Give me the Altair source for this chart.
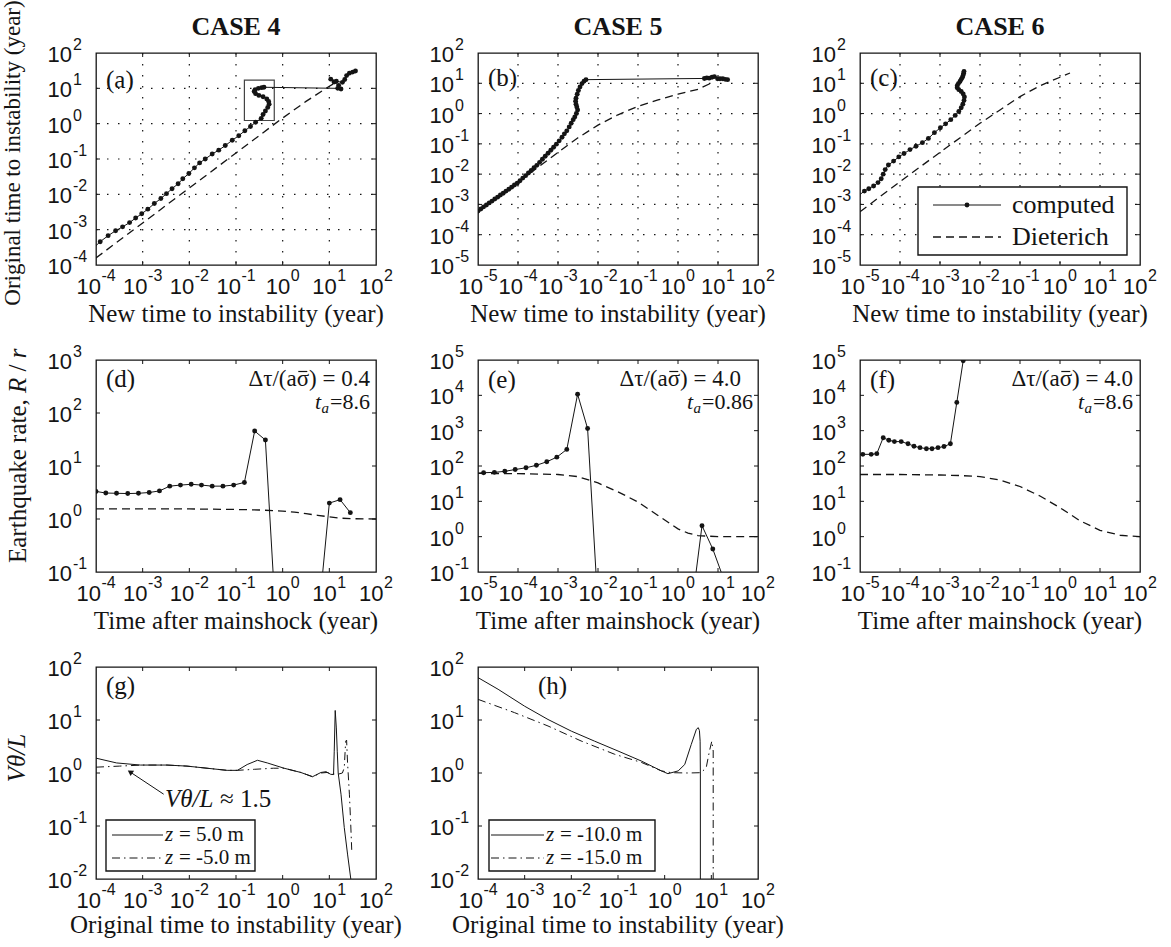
import altair as alt
import pandas as pd

# ---------------------------------------------------------------------------
# Layout / style
# ---------------------------------------------------------------------------
W, H = 280, 212
SERIF = "Liberation Serif"
SANS = "Liberation Sans"
INK = "#141414"
DOT = 24
DASH = [8, 5]
DASHDOT = [8, 4, 1.5, 4]
ONE = pd.DataFrame({"k": [0]})

# ---------------------------------------------------------------------------
# Curves, stored as log10 readings of the plotted quantities
# ---------------------------------------------------------------------------
# (a) CASE 4: new vs original time to instability
A_COMP_LX = [-4.07, -3.91, -3.74, -3.58, -3.43, -3.28, -3.15, -3.02, -2.89, -2.75,
             -2.61, -2.49, -2.37, -2.24, -2.14, -2.01, -1.89, -1.78, -1.66, -1.51,
             -1.37, -1.23, -1.08, -0.94, -0.81, -0.69, -0.58, -0.46,
             -0.42, -0.37, -0.32, -0.29, -0.30, -0.34, -0.42, -0.51, -0.58, -0.61,
             -0.59, -0.52, -0.45, -0.40,
             1.18, 1.25, 1.20, 1.10, 1.03, 1.15, 1.28, 1.33, 1.37, 1.43, 1.50, 1.56]
A_COMP_LY = [-3.54, -3.34, -3.17, -3.03, -2.92, -2.80, -2.67, -2.55, -2.42, -2.26,
             -2.12, -1.98, -1.84, -1.70, -1.56, -1.41, -1.25, -1.11, -1.00, -0.86,
             -0.75, -0.62, -0.47, -0.34, -0.20, -0.08, 0.04, 0.15,
             0.26, 0.36, 0.46, 0.55, 0.63, 0.70, 0.76, 0.80, 0.85, 0.91,
             0.96, 1.00, 1.02, 1.03,
             1.00, 0.98, 1.08, 1.18, 1.26, 1.20, 1.17, 1.25, 1.36, 1.43, 1.46, 1.49]
A_DIET_LX = [-4.0, -3.0, -2.0, -1.0, 0.0, 0.5, 1.0, 1.18]
A_DIET_LY = [-3.80, -2.81, -1.82, -0.83, 0.16, 0.63, 1.06, 1.20]
A_BOX_LX = [-0.82, -0.18]
A_BOX_LY = [0.09, 1.23]

# (b) CASE 5
B_COMP_LX = [-5.05, -5.00, -4.93, -4.86, -4.79, -4.72, -4.65, -4.58, -4.51, -4.44,
             -4.37, -4.30, -4.23, -4.16, -4.09, -4.02, -3.95, -3.88, -3.81, -3.74,
             -3.67, -3.60, -3.53, -3.46, -3.39, -3.32, -3.25, -3.18, -3.11, -3.04,
             -2.97, -2.90, -2.84, -2.78, -2.72, -2.67, -2.62, -2.58, -2.54, -2.51,
             -2.53, -2.55, -2.56, -2.55, -2.52, -2.49, -2.45, -2.40, -2.35, -2.30,
             0.66, 0.72, 0.78, 0.85, 0.91, 0.99, 1.05, 1.12, 1.18, 1.24]
B_COMP_LY = [-3.26, -3.22, -3.15, -3.08, -3.02, -2.95, -2.89, -2.82, -2.76, -2.69,
             -2.63, -2.56, -2.50, -2.43, -2.36, -2.30, -2.22, -2.13, -2.05, -1.96,
             -1.88, -1.79, -1.71, -1.61, -1.51, -1.41, -1.31, -1.21, -1.11, -1.01,
             -0.90, -0.78, -0.67, -0.57, -0.44, -0.32, -0.20, -0.11, 0.00, 0.12,
             0.22, 0.31, 0.41, 0.51, 0.64, 0.76, 0.88, 0.99, 1.07, 1.12,
             1.16, 1.18, 1.17, 1.20, 1.22, 1.15, 1.15, 1.15, 1.13, 1.12]
B_DIET_LX = [-5.0, -4.0, -3.0, -2.5, -2.0, -1.5, -1.0, -0.5, 0.0, 0.5, 0.85]
B_DIET_LY = [-3.26, -2.27, -1.28, -0.80, -0.38, -0.04, 0.24, 0.45, 0.64, 0.80, 1.02]

# (c) CASE 6
C_COMP_LX = [-5.05, -4.89, -4.78, -4.66, -4.55, -4.47, -4.42, -4.37, -4.29, -4.16,
             -4.03, -3.90, -3.75, -3.60, -3.44, -3.29, -3.14, -2.99, -2.86, -2.73,
             -2.62, -2.53, -2.47, -2.43, -2.40, -2.39, -2.42, -2.47, -2.53, -2.57,
             -2.57, -2.54, -2.50, -2.47, -2.44, -2.42, -2.41, -2.40]
C_COMP_LY = [-2.72, -2.56, -2.48, -2.39, -2.28, -2.15, -2.00, -1.85, -1.70, -1.57,
             -1.43, -1.32, -1.19, -1.08, -0.96, -0.82, -0.63, -0.47, -0.34, -0.20,
             -0.06, 0.07, 0.19, 0.31, 0.43, 0.55, 0.65, 0.73, 0.79, 0.85,
             0.92, 0.99, 1.06, 1.13, 1.20, 1.27, 1.33, 1.39]
C_DIET_LX = [-5.0, -4.0, -3.0, -2.0, -1.5, -1.0, -0.5, 0.0, 0.25]
C_DIET_LY = [-3.24, -2.25, -1.28, -0.32, 0.12, 0.56, 0.92, 1.20, 1.34]

# (d)-(f) earthquake rate after the mainshock (rates below 0.1 run off the axis)
D_COMP_LX = [-4.00, -3.79, -3.56, -3.32, -3.09, -2.86, -2.64, -2.42, -2.19, -1.96,
             -1.74, -1.51, -1.28, -1.05, -0.82, -0.60, -0.37, -0.14, 0.75, 1.00,
             1.23, 1.45]
D_COMP_LY = [0.52, 0.49, 0.485, 0.48, 0.485, 0.50, 0.53, 0.62, 0.64, 0.655,
             0.64, 0.62, 0.62, 0.64, 0.69, 1.66, 1.49, -2.0, -2.0, 0.30,
             0.365, 0.12]
D_DIET_LX = [-4.0, -3.0, -2.0, -1.0, -0.5, 0.0, 0.25, 0.5, 0.75, 1.0, 1.25, 1.5, 2.0]
D_DIET_LY = [0.19, 0.19, 0.19, 0.18, 0.17, 0.15, 0.13, 0.10, 0.07, 0.04, 0.015, 0.005, 0.0]

E_COMP_LX = [-5.12, -4.86, -4.59, -4.33, -4.07, -3.80, -3.54, -3.28, -3.03, -2.78,
             -2.51, -2.26, -2.00, 0.34, 0.60, 0.87, 1.40]
E_COMP_LY = [1.79, 1.81, 1.82, 1.85, 1.90, 1.95, 2.02, 2.12, 2.25, 2.47,
             4.03, 3.06, -2.0, -2.0, 0.31, -0.35, -2.0]
E_DIET_LX = [-5.0, -4.0, -3.0, -2.5, -2.0, -1.5, -1.0, -0.5, 0.0, 0.25, 0.5, 1.0, 2.0]
E_DIET_LY = [1.79, 1.785, 1.76, 1.70, 1.52, 1.27, 0.98, 0.60, 0.22, 0.10, 0.03, 0.0, 0.0]

F_COMP_LX = [-5.13, -4.93, -4.72, -4.58, -4.42, -4.28, -4.14, -3.97, -3.80, -3.65,
             -3.50, -3.34, -3.20, -3.05, -2.90, -2.74, -2.58, -2.42]
F_COMP_LY = [2.31, 2.33, 2.33, 2.35, 2.80, 2.73, 2.69, 2.69, 2.63, 2.56,
             2.52, 2.49, 2.49, 2.52, 2.55, 2.63, 3.80, 4.98]
F_DIET_LX = [-5.0, -4.0, -3.0, -2.5, -2.0, -1.5, -1.0, -0.5, 0.0, 0.5, 1.0, 1.5, 2.0]
F_DIET_LY = [1.76, 1.76, 1.745, 1.73, 1.70, 1.60, 1.42, 1.15, 0.82, 0.45, 0.18, 0.04, 0.0]

# (g)-(h) V*theta/L against original time to instability, at several depths z
G_Z5_LX = [-4.0, -3.56, -3.05, -2.48, -2.05, -1.62, -1.19, -0.97, -0.76, -0.54,
           -0.33, 0.03, 0.39, 0.64, 0.82, 0.93, 1.03, 1.09, 1.105, 1.126,
           1.15, 1.17, 1.19, 1.25, 1.32, 1.39, 1.46, 1.48]
G_Z5_LY = [0.28, 0.19, 0.15, 0.15, 0.13, 0.09, 0.05, 0.05, 0.16, 0.24,
           0.19, 0.09, 0.01, -0.07, 0.01, 0.025, -0.025, -0.03, 0.40, 1.18,
           0.85, 0.40, 0.0, -0.40, -1.03, -1.53, -2.0, -2.2]
G_ZM5_LX = [-4.0, -3.5, -3.0, -2.48, -2.05, -1.62, -1.19, -0.97, -0.6, -0.2,
            0.03, 0.39, 0.64, 0.82, 0.95, 1.05, 1.2, 1.28, 1.32, 1.35,
            1.37, 1.39, 1.43, 1.46, 1.48]
G_ZM5_LY = [0.11, 0.13, 0.15, 0.15, 0.13, 0.09, 0.05, 0.05, 0.07, 0.09,
            0.09, 0.01, -0.07, 0.0, 0.01, -0.02, -0.02, 0.0, 0.1, 0.6,
            0.62, 0.2, -0.4, -1.0, -1.45]
G_ARROW_LX = [-2.55, -3.27]   # tail, tip
G_ARROW_LY = [-0.40, 0.02]

H_Z10_LX = [-4.0, -3.57, -3.0, -2.5, -2.0, -1.5, -1.0, -0.5, -0.07, 0.07,
            0.29, 0.43, 0.57, 0.68, 0.72, 0.745, 0.76, 0.765, 0.765]
H_Z10_LY = [1.80, 1.58, 1.26, 1.01, 0.79, 0.60, 0.415, 0.226, 0.04, -0.013,
            0.04, 0.16, 0.54, 0.825, 0.855, 0.80, 0.60, 0.0, -2.2]
H_Z15_LX = [-4.0, -3.22, -2.5, -1.79, -1.07, -0.5, -0.07, 0.14, 0.5, 0.78,
            0.89, 0.96, 1.01, 1.04, 1.04]
H_Z15_LY = [1.39, 1.14, 0.887, 0.604, 0.353, 0.20, 0.04, 0.006, 0.0, 0.006,
            0.10, 0.415, 0.60, 0.415, -2.2]


def curve(lx, ly):
    return pd.DataFrame({"x": [10.0 ** v for v in lx],
                         "y": [10.0 ** v for v in ly],
                         "i": list(range(len(lx)))})


class Panel:
    """One log-log MATLAB-style box with inward ticks and 10^k labels."""

    def __init__(self, xr, yr, grid=False):
        self.xr, self.yr = xr, yr
        self.xs = alt.Scale(type="log", domain=[10.0 ** xr[0], 10.0 ** xr[1]], nice=False)
        self.ys = alt.Scale(type="log", domain=[10.0 ** yr[0], 10.0 ** yr[1]], nice=False)
        self.layers = []
        self._frame(grid)

    def X(self, f="x"):
        return alt.X(f"{f}:Q", scale=self.xs, axis=None)

    def Y(self, f="y"):
        return alt.Y(f"{f}:Q", scale=self.ys, axis=None)

    def _frame(self, grid):
        xin = pd.DataFrame({"v": [10.0 ** k for k in range(self.xr[0] + 1, self.xr[1])]})
        yin = pd.DataFrame({"v": [10.0 ** k for k in range(self.yr[0] + 1, self.yr[1])]})
        if grid:
            dotted = dict(color=INK, strokeWidth=1.2, strokeDash=[1.5, 9.5])
            self.layers.append(alt.Chart(xin).mark_rule(**dotted).encode(
                x=self.X("v"), y=alt.value(0), y2=alt.value(H)))
            self.layers.append(alt.Chart(yin).mark_rule(**dotted).encode(
                y=self.Y("v"), x=alt.value(0), x2=alt.value(W)))
        tick = dict(color=INK, strokeWidth=1)
        for a, b in ((0, 4), (H - 4, H)):
            self.layers.append(alt.Chart(xin).mark_rule(**tick).encode(
                x=self.X("v"), y=alt.value(a), y2=alt.value(b)))
        for a, b in ((0, 4), (W - 4, W)):
            self.layers.append(alt.Chart(yin).mark_rule(**tick).encode(
                y=self.Y("v"), x=alt.value(a), x2=alt.value(b)))

    def labels(self):
        kx = list(range(self.xr[0], self.xr[1] + 1))
        for ks, shift in (([k for k in kx if k < 0], 4.9), ([k for k in kx if k >= 0], 7.5)):
            df = pd.DataFrame({"v": [10.0 ** k for k in ks], "e": [str(k) for k in ks]})
            self.layers.append(alt.Chart(df).mark_text(
                text="10", align="right", baseline="middle", dx=shift,
                font=SANS, fontSize=22, color=INK).encode(x=self.X("v"), y=alt.value(H + 22)))
            self.layers.append(alt.Chart(df).mark_text(
                align="left", baseline="middle", dx=shift + 0.5,
                font=SANS, fontSize=16, color=INK).encode(
                x=self.X("v"), y=alt.value(H + 11), text="e:N"))
        ky = list(range(self.yr[0], self.yr[1] + 1))
        df = pd.DataFrame({"v": [10.0 ** k for k in ky], "e": [str(k) for k in ky]})
        self.layers.append(alt.Chart(df).mark_text(
            text="10", align="right", baseline="middle", dy=2,
            font=SANS, fontSize=22, color=INK).encode(y=self.Y("v"), x=alt.value(-24)))
        self.layers.append(alt.Chart(df).mark_text(
            align="left", baseline="middle", dy=-8,
            font=SANS, fontSize=16, color=INK).encode(
            y=self.Y("v"), x=alt.value(-23), text="e:N"))

    def line(self, df, dash=None, width=1.0, dots=False):
        kw = dict(color=INK, strokeWidth=width, clip=True)
        if dash:
            kw["strokeDash"] = dash
        self.layers.append(alt.Chart(df).mark_line(**kw).encode(
            x=self.X(), y=self.Y(), order=alt.Order("i:Q")))
        if dots:
            self.layers.append(alt.Chart(df).mark_circle(
                color=INK, opacity=1, size=DOT, clip=True).encode(x=self.X(), y=self.Y()))

    def text(self, s, x, y, size=25, align="left", baseline="alphabetic",
             font=SERIF, style="normal", weight="normal", angle=0):
        self.layers.append(alt.Chart(ONE).mark_text(
            text=s, align=align, baseline=baseline, font=font, fontSize=size,
            fontStyle=style, fontWeight=weight, angle=angle, color=INK).encode(
            x=alt.value(x), y=alt.value(y)))

    def rect(self, x0, x1, y0, y1, width=1.4):
        self.layers.append(alt.Chart(ONE).mark_rect(
            fill="white", stroke=INK, strokeWidth=width).encode(
            x=alt.value(x0), x2=alt.value(x1), y=alt.value(y0), y2=alt.value(y1)))

    def seg(self, x0, x1, y, dash=None, width=1.0):
        kw = dict(color=INK, strokeWidth=width)
        if dash:
            kw["strokeDash"] = dash
        self.layers.append(alt.Chart(ONE).mark_rule(**kw).encode(
            x=alt.value(x0), x2=alt.value(x1), y=alt.value(y)))

    def dot(self, x, y):
        self.layers.append(alt.Chart(ONE).mark_circle(color=INK, opacity=1, size=DOT).encode(
            x=alt.value(x), y=alt.value(y)))

    def xtitle(self, s, off=57):
        self.text(s, W / 2, H + off, align="center")

    def ytitle(self, s, x=-72, yc=96, style="normal", size=25):
        self.text(s, x, yc, align="center", angle=270, style=style, size=size)

    def chart(self):
        self.labels()
        return alt.layer(*self.layers).properties(width=W, height=H)


def rate_note(p, ratio, ta, right1, right2):
    """Two-line stress-step / aftershock-duration annotation, right aligned."""
    size = 23
    r1 = W - right1
    p.text(f"\u0394\u03c4/(a\u03c3) = {ratio}", r1, 26, size=size, align="right")
    # bar over sigma
    tail = size * (0.333 + 0.25 + 0.564 + 0.25 + sum(0.25 if c == "." else 0.5 for c in ratio))
    cx = r1 - tail - size * 0.275
    p.seg(cx - 4.5, cx + 4.5, 26 - 14.5, width=1.2)
    wr = 22 * (0.564 + sum(0.25 if c == "." else 0.5 for c in ta))
    x_eq = W - right2 - wr
    p.text(f"={ta}", x_eq, 49, size=22)
    p.text("a", x_eq - 1, 53, size=15, style="italic", align="right")
    p.text("t", x_eq - 9, 49, size=22, style="italic", align="right")


# ---------------------------------------------------------------------------
# Row 1: time to instability
# ---------------------------------------------------------------------------
pa = Panel((-4, 2), (-4, 2), grid=True)
pa.line(curve(A_DIET_LX, A_DIET_LY), dash=DASH, width=1.3)
pa.layers.append(alt.Chart(pd.DataFrame({
    "x": [10.0 ** A_BOX_LX[0]], "x2": [10.0 ** A_BOX_LX[1]],
    "y": [10.0 ** A_BOX_LY[0]], "y2": [10.0 ** A_BOX_LY[1]]})).mark_rect(
    fillOpacity=0, stroke="#444444", strokeWidth=1.2).encode(
    x=pa.X("x"), x2="x2:Q", y=pa.Y("y"), y2="y2:Q"))
pa.line(curve(A_COMP_LX, A_COMP_LY), dots=True)
pa.text("(a)", 10, 35)
pa.text("CASE 4", W / 2, -18, size=26, weight="bold", align="center")
pa.xtitle("New time to instability (year)")
pa.ytitle("Original time to instability (year)", x=-76, yc=100, size=23)

pb = Panel((-5, 2), (-5, 2), grid=True)
pb.line(curve(B_DIET_LX, B_DIET_LY), dash=DASH, width=1.3)
pb.line(curve(B_COMP_LX, B_COMP_LY), dots=True)
pb.text("(b)", 10, 33)
pb.text("CASE 5", W / 2, -18, size=26, weight="bold", align="center")
pb.xtitle("New time to instability (year)")

pc = Panel((-5, 2), (-5, 2), grid=True)
pc.line(curve(C_DIET_LX, C_DIET_LY), dash=DASH, width=1.3)
pc.line(curve(C_COMP_LX, C_COMP_LY), dots=True)
pc.text("(c)", 10, 33)
pc.text("CASE 6", W / 2, -18, size=26, weight="bold", align="center")
pc.xtitle("New time to instability (year)")
pc.rect(58, 267, 134, 202)
pc.seg(73, 141, 152)
pc.dot(107, 152)
pc.text("computed", 152, 152, baseline="middle", size=26)
pc.seg(73, 141, 184, dash=DASH, width=1.3)
pc.text("Dieterich", 152, 184, baseline="middle", size=26)

# ---------------------------------------------------------------------------
# Row 2: earthquake rate
# ---------------------------------------------------------------------------
pd_ = Panel((-4, 2), (-1, 3))
pd_.line(curve(D_DIET_LX, D_DIET_LY), dash=DASH, width=1.3)
pd_.line(curve(D_COMP_LX, D_COMP_LY), dots=True)
pd_.text("(d)", 10, 27)
rate_note(pd_, "0.4", "8.6", 6, 6)
pd_.xtitle("Time after mainshock (year)")
# y title with italic R and r, reading upward from base_y
base_y = 96 + 107
pd_.text("Earthquake rate,", -70, base_y, angle=270)
pd_.text("R", -70, base_y - 25 * 6.803, angle=270, style="italic")
pd_.text("/", -70, base_y - 25 * (6.803 + 0.611 + 0.25), angle=270)
pd_.text("r", -70, base_y - 25 * (6.803 + 0.611 + 0.778), angle=270, style="italic")

pe = Panel((-5, 2), (-1, 5))
pe.line(curve(E_DIET_LX, E_DIET_LY), dash=DASH, width=1.3)
pe.line(curve(E_COMP_LX, E_COMP_LY), dots=True)
pe.text("(e)", 10, 28)
rate_note(pe, "4.0", "0.86", 17, 5)
pe.xtitle("Time after mainshock (year)")

pf = Panel((-5, 2), (-1, 5))
pf.line(curve(F_DIET_LX, F_DIET_LY), dash=DASH, width=1.3)
pf.line(curve(F_COMP_LX, F_COMP_LY), dots=True)
pf.text("(f)", 10, 28)
rate_note(pf, "4.0", "8.6", 7, 7)
pf.xtitle("Time after mainshock (year)")

# ---------------------------------------------------------------------------
# Row 3: V theta / L
# ---------------------------------------------------------------------------
pg = Panel((-4, 2), (-2, 2))
pg.line(curve(G_ZM5_LX, G_ZM5_LY), dash=DASHDOT)
pg.line(curve(G_Z5_LX, G_Z5_LY))
arrow = pd.DataFrame({"x": [10.0 ** G_ARROW_LX[0]], "y": [10.0 ** G_ARROW_LY[0]],
                      "x2": [10.0 ** G_ARROW_LX[1]], "y2": [10.0 ** G_ARROW_LY[1]]})
pg.layers.append(alt.Chart(arrow).mark_rule(color=INK, strokeWidth=1).encode(
    x=pg.X("x"), y=pg.Y("y"), x2="x2:Q", y2="y2:Q"))
pg.layers.append(alt.Chart(arrow).mark_point(
    shape="triangle-up", filled=True, color=INK, opacity=1, size=40, angle=304,
    dx=3, dy=2).encode(x=pg.X("x2"), y=pg.Y("y2")))
pg.text("V\u03b8/L", 69, 140, style="italic")
pg.text("\u2248 1.5", 124, 140)
pg.rect(10, 159, 153, 204)
pg.seg(16, 67, 168)
pg.seg(16, 67, 191, dash=DASHDOT)
pg.text("z", 69, 168, size=21, style="italic", baseline="middle")
pg.text("= 5.0 m", 83, 168, size=21, baseline="middle")
pg.text("z", 69, 191, size=21, style="italic", baseline="middle")
pg.text("= -5.0 m", 83, 191, size=21, baseline="middle")
pg.text("(g)", 10, 27)
pg.xtitle("Original time to instability (year)", off=54)
pg.ytitle("V\u03b8/L", x=-71, yc=91, style="italic")

ph = Panel((-4, 2), (-2, 2))
ph.line(curve(H_Z15_LX, H_Z15_LY), dash=DASHDOT)
ph.line(curve(H_Z10_LX, H_Z10_LY))
ph.rect(11, 177, 153, 204)
ph.seg(13, 66, 168)
ph.seg(13, 66, 191, dash=DASHDOT)
ph.text("z", 68, 168, size=21, style="italic", baseline="middle")
ph.text("= -10.0 m", 82, 168, size=21, baseline="middle")
ph.text("z", 68, 191, size=21, style="italic", baseline="middle")
ph.text("= -15.0 m", 82, 191, size=21, baseline="middle")
ph.text("(h)", 60, 27)
ph.xtitle("Original time to instability (year)", off=54)

panels = [pa, pb, pc, pd_, pe, pf, pg, ph]
grid = alt.concat(*[p.chart() for p in panels], columns=3,
                  spacing={"row": 95, "column": 102}, bounds="flush")

chart = grid.properties(
    padding={"left": 96, "top": 53, "right": 1171 - 96, "bottom": 947 - 53},
    autosize=alt.AutoSizeParams(type="none"),
).configure_view(stroke=INK, strokeWidth=1.3)

chart.save("out.html", embed_options={"renderer": "svg", "actions": False})
